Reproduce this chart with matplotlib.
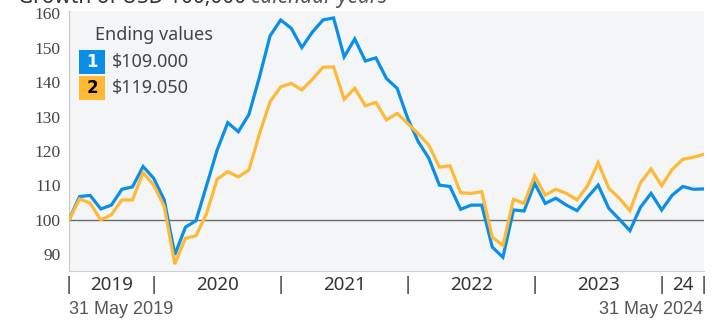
import numpy as np
import matplotlib.pyplot as plt
from matplotlib.patches import Rectangle
from matplotlib.transforms import blended_transform_factory

# month-end values of USD 100 invested on 31 May 2019 (61 points, May 2019 - May 2024)
fund_1 = [100.0, 106.8, 107.1, 103.2, 104.3, 108.9, 109.6, 115.5, 112.1, 105.8,
          89.9, 97.9, 99.8, 110.0, 120.3, 128.2, 125.6, 130.6, 141.5, 153.4,
          158.0, 155.6, 150.0, 154.5, 158.0, 158.6, 147.3, 152.5, 146.1, 147.0,
          141.0, 138.2, 129.5, 122.7, 117.9, 110.1, 109.7, 103.1, 104.3, 104.3,
          92.1, 89.2, 102.9, 102.6, 110.6, 104.8, 106.3, 104.3, 102.7, 106.6,
          110.1, 103.4, 100.2, 96.9, 103.7, 107.7, 102.9, 107.2, 109.7, 108.9,
          109.0]
fund_2 = [100.0, 106.1, 104.9, 100.0, 101.5, 105.8, 105.8, 113.7, 110.1, 103.9,
          87.2, 94.7, 95.4, 101.9, 111.8, 114.0, 112.5, 114.5, 125.0, 134.3,
          138.6, 139.6, 137.7, 140.8, 144.3, 144.4, 135.0, 138.2, 133.1, 134.1,
          129.0, 130.9, 128.0, 125.0, 121.7, 115.3, 115.7, 107.9, 107.7, 108.2,
          95.0, 92.6, 106.0, 104.8, 112.8, 107.2, 108.9, 107.7, 105.8, 109.9,
          116.6, 109.2, 106.3, 102.7, 110.8, 114.8, 109.9, 114.7, 117.6, 118.2,
          119.05]
year_labels = ["2019", "2020", "2021", "2022", "2023", "24"]
year_bounds = [0, 8, 20, 32, 44, 56, 60]   # month index of each year break
y_ticks = [90, 100, 110, 120, 130, 140, 150, 160]

blue = "#0a8fe8"
orange = "#ffb935"

plt.rcParams['font.family'] = ['Noto Sans', 'DejaVu Sans']

fig = plt.figure(figsize=(7.2, 3.22), dpi=100)
ax = fig.add_axes([69 / 720, 1 - 271 / 322, 635 / 720, 260 / 322])
ax.set_facecolor("#f4f5f7")

x = np.arange(len(fund_1))
ax.axhline(100, color="#6b6b6b", lw=1.0, zorder=1)
ax.plot(x, fund_1, color=blue, lw=2.3, zorder=3, solid_joinstyle="miter")
ax.plot(x, fund_2, color=orange, lw=2.3, zorder=4, solid_joinstyle="miter")

ax.set_xlim(0, 60)
ax.set_ylim(85.2, 160.6)
ax.set_yticks(y_ticks)
ax.set_yticklabels([str(v) for v in y_ticks], family="Liberation Serif",
                   fontsize=12.5, color="#444444")
ax.tick_params(axis="y", length=0, pad=6)
ax.set_xticks([])
for s in ["top", "right"]:
    ax.spines[s].set_visible(False)
ax.spines["left"].set_color("#c8c8c8")
ax.spines["bottom"].set_color("#d0d0d0")

# year separators and labels below the axis
trans = blended_transform_factory(ax.transData, fig.transFigure)
yy = 1 - 285 / 322
for b in year_bounds:
    ax.text(b, yy, "|", transform=trans, ha="center", va="center",
            fontsize=13, color="#333333")
for i, lab in enumerate(year_labels):
    mid = (year_bounds[i] + year_bounds[i + 1]) / 2
    ax.text(mid, yy, lab, transform=trans, ha="center", va="center",
            fontsize=13.5, color="#333333")

fig.text(69 / 720, 1 - 309 / 322, "31 May 2019", ha="left", va="center",
         family="Liberation Sans", fontsize=13, color="#555555")
fig.text(703 / 720, 1 - 309 / 322, "31 May 2024", ha="right", va="center",
         family="Liberation Sans", fontsize=13, color="#555555")

# title, partly above the top edge
t1 = fig.text(18 / 720, 1 - 3 / 322, "Growth of USD 100,000 ", ha="left",
              va="baseline", fontsize=15, weight="bold", color="#333333")
ax.annotate("calendar years", xy=(1, 0), xycoords=t1, ha="left", va="bottom",
            fontsize=15, style="italic", color="#555555", annotation_clip=False)

# legend with ending values
fig.text(95 / 720, 1 - 35 / 322, "Ending values", ha="left", va="center",
         fontsize=13, color="#444444")
for k, (vals, col, tcol, yc) in enumerate([(fund_1, blue, "white", 62),
                                            (fund_2, orange, "black", 88)]):
    fig.patches.append(Rectangle((79 / 720, 1 - (yc + 12) / 322), 26 / 720, 24 / 322,
                                 transform=fig.transFigure, facecolor=col,
                                 edgecolor="none"))
    fig.text(92 / 720, 1 - yc / 322, str(k + 1), ha="center", va="center",
             fontsize=12, weight="bold", color=tcol, family="DejaVu Sans")
    fig.text(112 / 720, 1 - yc / 322, f"${vals[-1]:.3f}", ha="left", va="center",
             fontsize=13, color="#444444")

fig.savefig("out.png", dpi=100)
